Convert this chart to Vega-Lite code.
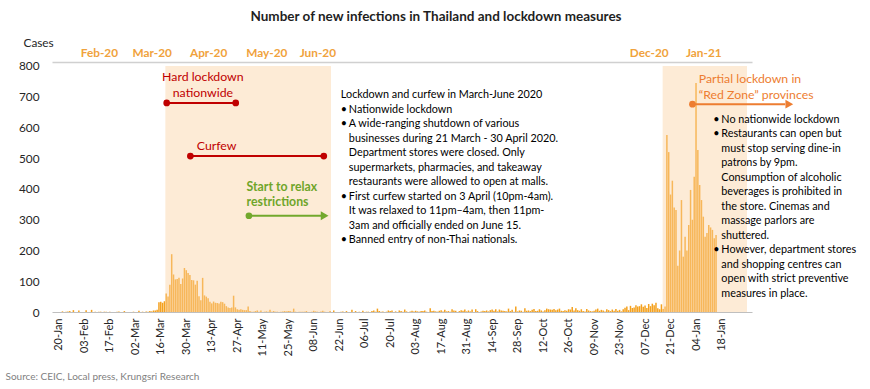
{
  "$schema": "https://vega.github.io/schema/vega-lite/v6.json",
  "width": 700,
  "height": 250,
  "autosize": {"type": "none"},
  "padding": {"left": 52, "top": 62, "right": 118, "bottom": 77},
  "background": "white",
  "title": {"text": "Number of new infections in Thailand and lockdown measures", "fontSize": 13.5, "fontWeight": "bold", "color": "#1F1F1F", "anchor": "middle", "dx": 34, "offset": 14},
  "config": {
    "font": "Lato",
    "view": {"stroke": null},
    "axis": {"grid": false},
    "axisY": {"labelOverlap": false, "labelFlush": false, "labelSeparation": 0}
  },
  "datasets": {
    "cases": [
      {"date": "2020-01-22", "cases": 2}, {"date": "2020-01-24", "cases": 1}, {"date": "2020-01-25", "cases": 2}, {"date": "2020-01-26", "cases": 3}, {"date": "2020-01-28", "cases": 6}, {"date": "2020-01-31", "cases": 5},
      {"date": "2020-02-04", "cases": 6}, {"date": "2020-02-07", "cases": 7}, {"date": "2020-02-09", "cases": 1}, {"date": "2020-02-11", "cases": 1}, {"date": "2020-02-12", "cases": 1}, {"date": "2020-02-14", "cases": 1}, {"date": "2020-02-15", "cases": 1}, {"date": "2020-02-17", "cases": 1}, {"date": "2020-02-21", "cases": 1}, {"date": "2020-02-22", "cases": 2}, {"date": "2020-02-25", "cases": 3},
      {"date": "2020-03-01", "cases": 1}, {"date": "2020-03-04", "cases": 4}, {"date": "2020-03-06", "cases": 1}, {"date": "2020-03-08", "cases": 2}, {"date": "2020-03-09", "cases": 1}, {"date": "2020-03-10", "cases": 3}, {"date": "2020-03-11", "cases": 2}, {"date": "2020-03-12", "cases": 5}, {"date": "2020-03-13", "cases": 5}, {"date": "2020-03-14", "cases": 7}, {"date": "2020-03-15", "cases": 32}, {"date": "2020-03-16", "cases": 33}, {"date": "2020-03-17", "cases": 30}, {"date": "2020-03-18", "cases": 35}, {"date": "2020-03-19", "cases": 60}, {"date": "2020-03-20", "cases": 50}, {"date": "2020-03-21", "cases": 89}, {"date": "2020-03-22", "cases": 188}, {"date": "2020-03-23", "cases": 122}, {"date": "2020-03-24", "cases": 106}, {"date": "2020-03-25", "cases": 107}, {"date": "2020-03-26", "cases": 111}, {"date": "2020-03-27", "cases": 91}, {"date": "2020-03-28", "cases": 109}, {"date": "2020-03-29", "cases": 143}, {"date": "2020-03-30", "cases": 136}, {"date": "2020-03-31", "cases": 127},
      {"date": "2020-04-01", "cases": 120}, {"date": "2020-04-02", "cases": 104}, {"date": "2020-04-03", "cases": 103}, {"date": "2020-04-04", "cases": 89}, {"date": "2020-04-05", "cases": 102}, {"date": "2020-04-06", "cases": 51}, {"date": "2020-04-07", "cases": 38}, {"date": "2020-04-08", "cases": 111}, {"date": "2020-04-09", "cases": 54}, {"date": "2020-04-10", "cases": 50}, {"date": "2020-04-11", "cases": 45}, {"date": "2020-04-12", "cases": 33}, {"date": "2020-04-13", "cases": 28}, {"date": "2020-04-14", "cases": 34}, {"date": "2020-04-15", "cases": 30}, {"date": "2020-04-16", "cases": 29}, {"date": "2020-04-17", "cases": 28}, {"date": "2020-04-18", "cases": 33}, {"date": "2020-04-19", "cases": 32}, {"date": "2020-04-20", "cases": 27}, {"date": "2020-04-21", "cases": 19}, {"date": "2020-04-22", "cases": 15}, {"date": "2020-04-23", "cases": 13}, {"date": "2020-04-24", "cases": 15}, {"date": "2020-04-25", "cases": 53}, {"date": "2020-04-26", "cases": 15}, {"date": "2020-04-27", "cases": 9}, {"date": "2020-04-28", "cases": 7}, {"date": "2020-04-29", "cases": 9}, {"date": "2020-04-30", "cases": 7},
      {"date": "2020-05-01", "cases": 6}, {"date": "2020-05-02", "cases": 6}, {"date": "2020-05-03", "cases": 18}, {"date": "2020-05-04", "cases": 3}, {"date": "2020-05-05", "cases": 1}, {"date": "2020-05-06", "cases": 1}, {"date": "2020-05-07", "cases": 3}, {"date": "2020-05-08", "cases": 5}, {"date": "2020-05-09", "cases": 1}, {"date": "2020-05-10", "cases": 5}, {"date": "2020-05-12", "cases": 1}, {"date": "2020-05-13", "cases": 2}, {"date": "2020-05-14", "cases": 1}, {"date": "2020-05-15", "cases": 7}, {"date": "2020-05-16", "cases": 1}, {"date": "2020-05-17", "cases": 3}, {"date": "2020-05-18", "cases": 1}, {"date": "2020-05-19", "cases": 1}, {"date": "2020-05-21", "cases": 1}, {"date": "2020-05-22", "cases": 2}, {"date": "2020-05-23", "cases": 3}, {"date": "2020-05-24", "cases": 2}, {"date": "2020-05-25", "cases": 3}, {"date": "2020-05-26", "cases": 3}, {"date": "2020-05-27", "cases": 1}, {"date": "2020-05-28", "cases": 11}, {"date": "2020-05-29", "cases": 1}, {"date": "2020-05-31", "cases": 1},
      {"date": "2020-06-01", "cases": 1}, {"date": "2020-06-02", "cases": 1}, {"date": "2020-06-03", "cases": 1}, {"date": "2020-06-04", "cases": 3}, {"date": "2020-06-07", "cases": 1}, {"date": "2020-06-08", "cases": 4}, {"date": "2020-06-09", "cases": 2}, {"date": "2020-06-10", "cases": 1}, {"date": "2020-06-12", "cases": 2}, {"date": "2020-06-13", "cases": 4}, {"date": "2020-06-14", "cases": 1}, {"date": "2020-06-17", "cases": 3}, {"date": "2020-06-19", "cases": 5}, {"date": "2020-06-23", "cases": 1}, {"date": "2020-06-24", "cases": 2}, {"date": "2020-06-26", "cases": 3}, {"date": "2020-06-29", "cases": 7},
      {"date": "2020-07-01", "cases": 3}, {"date": "2020-07-03", "cases": 1}, {"date": "2020-07-05", "cases": 4}, {"date": "2020-07-07", "cases": 1}, {"date": "2020-07-08", "cases": 1}, {"date": "2020-07-10", "cases": 3}, {"date": "2020-07-11", "cases": 5}, {"date": "2020-07-12", "cases": 1}, {"date": "2020-07-13", "cases": 11}, {"date": "2020-07-14", "cases": 3}, {"date": "2020-07-15", "cases": 1}, {"date": "2020-07-16", "cases": 2}, {"date": "2020-07-18", "cases": 1}, {"date": "2020-07-19", "cases": 5}, {"date": "2020-07-20", "cases": 3}, {"date": "2020-07-21", "cases": 5}, {"date": "2020-07-23", "cases": 2}, {"date": "2020-07-25", "cases": 5}, {"date": "2020-07-26", "cases": 3}, {"date": "2020-07-27", "cases": 1}, {"date": "2020-07-28", "cases": 8}, {"date": "2020-07-29", "cases": 2}, {"date": "2020-07-31", "cases": 2},
      {"date": "2020-08-01", "cases": 4}, {"date": "2020-08-02", "cases": 2}, {"date": "2020-08-03", "cases": 4}, {"date": "2020-08-04", "cases": 2}, {"date": "2020-08-05", "cases": 1}, {"date": "2020-08-06", "cases": 3}, {"date": "2020-08-07", "cases": 3}, {"date": "2020-08-08", "cases": 5}, {"date": "2020-08-09", "cases": 1}, {"date": "2020-08-11", "cases": 12}, {"date": "2020-08-12", "cases": 3}, {"date": "2020-08-13", "cases": 4}, {"date": "2020-08-14", "cases": 2}, {"date": "2020-08-15", "cases": 1}, {"date": "2020-08-16", "cases": 4}, {"date": "2020-08-17", "cases": 6}, {"date": "2020-08-18", "cases": 2}, {"date": "2020-08-19", "cases": 7}, {"date": "2020-08-20", "cases": 2}, {"date": "2020-08-21", "cases": 3}, {"date": "2020-08-22", "cases": 1}, {"date": "2020-08-23", "cases": 9}, {"date": "2020-08-24", "cases": 5}, {"date": "2020-08-25", "cases": 4}, {"date": "2020-08-27", "cases": 3}, {"date": "2020-08-28", "cases": 6}, {"date": "2020-08-29", "cases": 4}, {"date": "2020-08-30", "cases": 8}, {"date": "2020-08-31", "cases": 2},
      {"date": "2020-09-01", "cases": 5}, {"date": "2020-09-02", "cases": 2}, {"date": "2020-09-03", "cases": 8}, {"date": "2020-09-05", "cases": 9}, {"date": "2020-09-06", "cases": 3}, {"date": "2020-09-08", "cases": 2}, {"date": "2020-09-09", "cases": 4}, {"date": "2020-09-10", "cases": 3}, {"date": "2020-09-11", "cases": 5}, {"date": "2020-09-12", "cases": 2}, {"date": "2020-09-13", "cases": 6}, {"date": "2020-09-14", "cases": 8}, {"date": "2020-09-15", "cases": 4}, {"date": "2020-09-16", "cases": 9}, {"date": "2020-09-17", "cases": 2}, {"date": "2020-09-18", "cases": 8}, {"date": "2020-09-19", "cases": 5}, {"date": "2020-09-20", "cases": 4}, {"date": "2020-09-21", "cases": 3}, {"date": "2020-09-22", "cases": 2}, {"date": "2020-09-23", "cases": 11}, {"date": "2020-09-24", "cases": 3}, {"date": "2020-09-25", "cases": 7}, {"date": "2020-09-26", "cases": 1}, {"date": "2020-09-27", "cases": 18}, {"date": "2020-09-28", "cases": 2}, {"date": "2020-09-29", "cases": 5}, {"date": "2020-09-30", "cases": 4},
      {"date": "2020-10-01", "cases": 1}, {"date": "2020-10-02", "cases": 12}, {"date": "2020-10-03", "cases": 4}, {"date": "2020-10-04", "cases": 5}, {"date": "2020-10-05", "cases": 3}, {"date": "2020-10-06", "cases": 7}, {"date": "2020-10-07", "cases": 10}, {"date": "2020-10-08", "cases": 3}, {"date": "2020-10-09", "cases": 4}, {"date": "2020-10-10", "cases": 9}, {"date": "2020-10-11", "cases": 5}, {"date": "2020-10-12", "cases": 2}, {"date": "2020-10-13", "cases": 6}, {"date": "2020-10-14", "cases": 11}, {"date": "2020-10-15", "cases": 9}, {"date": "2020-10-16", "cases": 8}, {"date": "2020-10-17", "cases": 7}, {"date": "2020-10-18", "cases": 10}, {"date": "2020-10-19", "cases": 6}, {"date": "2020-10-20", "cases": 8}, {"date": "2020-10-21", "cases": 11}, {"date": "2020-10-22", "cases": 4}, {"date": "2020-10-23", "cases": 3}, {"date": "2020-10-24", "cases": 6}, {"date": "2020-10-25", "cases": 4}, {"date": "2020-10-26", "cases": 9}, {"date": "2020-10-27", "cases": 8}, {"date": "2020-10-28", "cases": 16}, {"date": "2020-10-29", "cases": 5}, {"date": "2020-10-30", "cases": 12}, {"date": "2020-10-31", "cases": 6},
      {"date": "2020-11-01", "cases": 4}, {"date": "2020-11-02", "cases": 9}, {"date": "2020-11-03", "cases": 3}, {"date": "2020-11-04", "cases": 2}, {"date": "2020-11-05", "cases": 10}, {"date": "2020-11-06", "cases": 5}, {"date": "2020-11-07", "cases": 3}, {"date": "2020-11-08", "cases": 2}, {"date": "2020-11-09", "cases": 4}, {"date": "2020-11-10", "cases": 8}, {"date": "2020-11-11", "cases": 11}, {"date": "2020-11-12", "cases": 4}, {"date": "2020-11-13", "cases": 7}, {"date": "2020-11-14", "cases": 5}, {"date": "2020-11-15", "cases": 2}, {"date": "2020-11-16", "cases": 9}, {"date": "2020-11-17", "cases": 6}, {"date": "2020-11-18", "cases": 3}, {"date": "2020-11-19", "cases": 8}, {"date": "2020-11-20", "cases": 4}, {"date": "2020-11-21", "cases": 10}, {"date": "2020-11-22", "cases": 4}, {"date": "2020-11-23", "cases": 7}, {"date": "2020-11-24", "cases": 2}, {"date": "2020-11-25", "cases": 9}, {"date": "2020-11-26", "cases": 14}, {"date": "2020-11-27", "cases": 18}, {"date": "2020-11-28", "cases": 6}, {"date": "2020-11-29", "cases": 20}, {"date": "2020-11-30", "cases": 13},
      {"date": "2020-12-01", "cases": 15}, {"date": "2020-12-02", "cases": 22}, {"date": "2020-12-03", "cases": 18}, {"date": "2020-12-04", "cases": 19}, {"date": "2020-12-05", "cases": 25}, {"date": "2020-12-06", "cases": 17}, {"date": "2020-12-07", "cases": 21}, {"date": "2020-12-08", "cases": 13}, {"date": "2020-12-09", "cases": 26}, {"date": "2020-12-10", "cases": 19}, {"date": "2020-12-11", "cases": 27}, {"date": "2020-12-12", "cases": 22}, {"date": "2020-12-13", "cases": 30}, {"date": "2020-12-14", "cases": 12}, {"date": "2020-12-15", "cases": 9}, {"date": "2020-12-16", "cases": 25}, {"date": "2020-12-17", "cases": 10}, {"date": "2020-12-18", "cases": 18},
      {"date": "2020-12-19", "cases": 576}, {"date": "2020-12-20", "cases": 520}, {"date": "2020-12-21", "cases": 382}, {"date": "2020-12-22", "cases": 427}, {"date": "2020-12-23", "cases": 340}, {"date": "2020-12-24", "cases": 332}, {"date": "2020-12-25", "cases": 150}, {"date": "2020-12-26", "cases": 200}, {"date": "2020-12-27", "cases": 364}, {"date": "2020-12-28", "cases": 180}, {"date": "2020-12-29", "cases": 245}, {"date": "2020-12-30", "cases": 200}, {"date": "2020-12-31", "cases": 283},
      {"date": "2021-01-01", "cases": 397}, {"date": "2021-01-02", "cases": 300}, {"date": "2021-01-03", "cases": 440}, {"date": "2021-01-04", "cases": 745}, {"date": "2021-01-05", "cases": 527}, {"date": "2021-01-06", "cases": 413}, {"date": "2021-01-07", "cases": 364}, {"date": "2021-01-08", "cases": 310}, {"date": "2021-01-09", "cases": 245}, {"date": "2021-01-10", "cases": 257}, {"date": "2021-01-11", "cases": 283}, {"date": "2021-01-12", "cases": 275}, {"date": "2021-01-13", "cases": 267}, {"date": "2021-01-14", "cases": 240}, {"date": "2021-01-15", "cases": 250}
    ],
    "shades": [
      {"start": "2020-03-18T12:00:00Z", "end": "2020-06-17T12:00:00Z"},
      {"start": "2020-12-16T16:00:00Z", "end": "2021-02-01T00:00:00Z"}
    ],
    "segments": [
      {"start": "2020-03-19T06:00:00Z", "end": "2020-04-26T04:00:00Z", "value": 680, "group": "lockdown"},
      {"start": "2020-04-01T06:00:00Z", "end": "2020-06-13T13:00:00Z", "value": 507, "group": "lockdown"},
      {"start": "2020-05-03T10:00:00Z", "end": "2020-06-13T00:00:00Z", "value": 313, "group": "relax"},
      {"start": "2021-01-02T01:00:00Z", "end": "2021-02-22T00:00:00Z", "value": 676, "group": "partial"}
    ],
    "dots": [
      {"date": "2020-03-19T06:00:00Z", "value": 680, "group": "lockdown"},
      {"date": "2020-04-26T04:00:00Z", "value": 680, "group": "lockdown"},
      {"date": "2020-04-01T06:00:00Z", "value": 507, "group": "lockdown"},
      {"date": "2020-06-13T13:00:00Z", "value": 507, "group": "lockdown"},
      {"date": "2020-05-03T10:00:00Z", "value": 313, "group": "relax"},
      {"date": "2021-01-02T01:00:00Z", "value": 676, "group": "partial"}
    ],
    "heads": [
      {"date": "2020-06-14T00:00:00Z", "value": 313, "group": "relax"},
      {"date": "2021-02-24T06:00:00Z", "value": 676, "group": "partial"}
    ],
    "redLabels": [
      {"date": "2020-04-08T03:00:00Z", "value": 783, "label": "Hard lockdown\nnationwide"},
      {"date": "2020-04-15T16:00:00Z", "value": 560, "label": "Curfew"}
    ],
    "greenLabels": [
      {"date": "2020-05-02T03:00:00Z", "value": 427, "label": "Start to relax\nrestrictions"}
    ],
    "orangeLabels": [
      {"date": "2021-01-05T12:00:00Z", "value": 777, "label": "Partial lockdown in\n“Red Zone” provinces"}
    ],
    "headers": [
      {"date": "2020-06-22T22:00:00Z", "value": 725, "label": "Lockdown and curfew in March-June 2020"}
    ],
    "bullets": [
      {"date": "2020-06-22T22:00:00Z", "value": 677},
      {"date": "2020-06-22T22:00:00Z", "value": 629.8},
      {"date": "2020-06-22T22:00:00Z", "value": 394.1},
      {"date": "2020-06-22T22:00:00Z", "value": 252.6},
      {"date": "2021-01-13T12:00:00Z", "value": 645},
      {"date": "2021-01-13T12:00:00Z", "value": 597.8},
      {"date": "2021-01-13T12:00:00Z", "value": 220.6}
    ],
    "bodies": [
      {"date": "2020-06-22T22:00:00Z", "value": 677, "label": "Nationwide lockdown\nA wide-ranging shutdown of various\nbusinesses during 21 March - 30 April 2020.\nDepartment stores were closed. Only\nsupermarkets, pharmacies, and takeaway\nrestaurants were allowed to open at malls.\nFirst curfew started on 3 April (10pm-4am).\nIt was relaxed to 11pm–4am, then 11pm-\n3am and officially ended on June 15.\nBanned entry of non-Thai nationals."},
      {"date": "2021-01-13T12:00:00Z", "value": 645, "label": "No nationwide lockdown\nRestaurants can open but\nmust stop serving dine-in\npatrons by 9pm.\nConsumption of alcoholic\nbeverages is prohibited in\nthe store. Cinemas and\nmassage parlors are\nshuttered.\nHowever, department stores\nand  shopping centres can\nopen with strict preventive\nmeasures in place."}
    ]
  },
  "layer": [
    {
      "data": {"name": "cases"},
      "mark": {"type": "bar", "width": 1.5, "color": "#F4A11E"},
      "encoding": {
        "x": {
          "field": "date", "type": "temporal",
          "scale": {"type": "utc", "domain": [{"year": 2020, "month": 1, "date": 19, "utc": true}, {"year": 2021, "month": 2, "date": 1, "utc": true}]},
          "axis": {
            "orient": "bottom",
            "title": "Source: CEIC, Local press, Krungsri Research",
            "titleFontSize": 10,
            "titleFontWeight": "normal",
            "titleColor": "#7F7F7F",
            "titleAlign": "left",
            "titleBaseline": "middle",
            "titleX": -47,
            "titleY": 64,
            "values": [
              {"year": 2020, "month": 1, "date": 20, "utc": true}, {"year": 2020, "month": 2, "date": 3, "utc": true}, {"year": 2020, "month": 2, "date": 17, "utc": true}, {"year": 2020, "month": 3, "date": 2, "utc": true}, {"year": 2020, "month": 3, "date": 16, "utc": true}, {"year": 2020, "month": 3, "date": 30, "utc": true}, {"year": 2020, "month": 4, "date": 13, "utc": true}, {"year": 2020, "month": 4, "date": 27, "utc": true}, {"year": 2020, "month": 5, "date": 11, "utc": true}, {"year": 2020, "month": 5, "date": 25, "utc": true}, {"year": 2020, "month": 6, "date": 8, "utc": true}, {"year": 2020, "month": 6, "date": 22, "utc": true}, {"year": 2020, "month": 7, "date": 6, "utc": true}, {"year": 2020, "month": 7, "date": 20, "utc": true}, {"year": 2020, "month": 8, "date": 3, "utc": true}, {"year": 2020, "month": 8, "date": 17, "utc": true}, {"year": 2020, "month": 8, "date": 31, "utc": true}, {"year": 2020, "month": 9, "date": 14, "utc": true}, {"year": 2020, "month": 9, "date": 28, "utc": true}, {"year": 2020, "month": 10, "date": 12, "utc": true}, {"year": 2020, "month": 10, "date": 26, "utc": true}, {"year": 2020, "month": 11, "date": 9, "utc": true}, {"year": 2020, "month": 11, "date": 23, "utc": true}, {"year": 2020, "month": 12, "date": 7, "utc": true}, {"year": 2020, "month": 12, "date": 21, "utc": true}, {"year": 2021, "month": 1, "date": 4, "utc": true}, {"year": 2021, "month": 1, "date": 18, "utc": true}
            ],
            "format": "%d-%b",
            "labelAngle": -90,
            "labelAlign": "right",
            "labelBaseline": "middle",
            "labelFontSize": 11,
            "labelColor": "#262626",
            "labelPadding": 6,
            "labelOverlap": false,
            "labelFlush": false,
            "ticks": false,
            "domainColor": "#BFBFBF",
            "domainWidth": 1
          }
        },
        "y": {
          "field": "cases", "type": "quantitative", "title": "Cases",
          "scale": {"domain": [0, 813], "nice": false, "zero": true},
          "axis": {
            "values": [0, 100, 200, 300, 400, 500, 600, 700, 800],
            "tickCount": 9,
            "labelOverlap": false,
            "labelFlush": false,
            "domain": false,
            "ticks": false,
            "labelFontSize": 11.8,
            "labelColor": "#262626",
            "labelPadding": 13,
            "titleAngle": 0,
            "titleAlign": "left",
            "titleBaseline": "middle",
            "titleX": -29,
            "titleY": -20,
            "titleFontSize": 11.8,
            "titleFontWeight": "normal",
            "titleColor": "#262626"
          }
        }
      }
    },
    {
      "data": {"name": "shades"},
      "mark": {"type": "rect", "color": "#FAD3A3", "opacity": 0.45},
      "encoding": {
        "x": {
          "field": "start", "type": "temporal",
          "axis": {
            "orient": "top",
            "title": null,
            "values": [
              {"year": 2020, "month": 2, "date": 11, "utc": true}, {"year": 2020, "month": 3, "date": 11, "utc": true}, {"year": 2020, "month": 4, "date": 11, "utc": true}, {"year": 2020, "month": 5, "date": 13, "utc": true}, {"year": 2020, "month": 6, "date": 10, "utc": true}, {"year": 2020, "month": 12, "date": 9, "utc": true}, {"year": 2021, "month": 1, "date": 8, "utc": true}
            ],
            "format": "%b-%y",
            "labelFontSize": 11.8,
            "labelFontWeight": "bold",
            "labelColor": "#F0A23C",
            "labelPadding": 4,
            "labelOverlap": false,
            "labelFlush": false,
            "ticks": false,
            "domainColor": "#D0D0D0",
            "domainWidth": 1.5
          }
        },
        "x2": {"field": "end"},
        "y": {"datum": 800, "type": "quantitative"},
        "y2": {"datum": 0}
      }
    },
    {
      "data": {"name": "segments"},
      "mark": {"type": "rule", "strokeWidth": 2},
      "encoding": {
        "x": {"field": "start", "type": "temporal", "axis": null},
        "x2": {"field": "end"},
        "y": {"field": "value", "type": "quantitative"},
        "color": {"field": "group", "type": "nominal", "scale": {"domain": ["lockdown", "relax", "partial"], "range": ["#C00000", "#72A82D", "#ED7D31"]}, "legend": null}
      }
    },
    {
      "data": {"name": "dots"},
      "mark": {"type": "point", "filled": true, "shape": "circle", "size": 45, "opacity": 1},
      "encoding": {
        "x": {"field": "date", "type": "temporal", "axis": null},
        "y": {"field": "value", "type": "quantitative"},
        "color": {"field": "group", "type": "nominal", "legend": null}
      }
    },
    {
      "data": {"name": "heads"},
      "mark": {"type": "point", "filled": true, "shape": "triangle-right", "size": 80, "opacity": 1},
      "encoding": {
        "x": {"field": "date", "type": "temporal", "axis": null},
        "y": {"field": "value", "type": "quantitative"},
        "color": {"field": "group", "type": "nominal", "legend": null}
      }
    },
    {
      "data": {"name": "redLabels"},
      "mark": {"type": "text", "align": "center", "baseline": "top", "lineBreak": "\n", "lineHeight": 16, "fontSize": 12.3, "color": "#C00000"},
      "encoding": {
        "x": {"field": "date", "type": "temporal", "axis": null},
        "y": {"field": "value", "type": "quantitative"},
        "text": {"field": "label"}
      }
    },
    {
      "data": {"name": "greenLabels"},
      "mark": {"type": "text", "align": "left", "baseline": "top", "lineBreak": "\n", "lineHeight": 15, "fontSize": 12.3, "fontWeight": "bold", "color": "#6FA52A"},
      "encoding": {
        "x": {"field": "date", "type": "temporal", "axis": null},
        "y": {"field": "value", "type": "quantitative"},
        "text": {"field": "label"}
      }
    },
    {
      "data": {"name": "orangeLabels"},
      "mark": {"type": "text", "align": "left", "baseline": "top", "lineBreak": "\n", "lineHeight": 16, "fontSize": 12.3, "color": "#ED7D31"},
      "encoding": {
        "x": {"field": "date", "type": "temporal", "axis": null},
        "y": {"field": "value", "type": "quantitative"},
        "text": {"field": "label"}
      }
    },
    {
      "data": {"name": "headers"},
      "mark": {"type": "text", "align": "left", "baseline": "top", "fontSize": 10.8, "color": "#000000"},
      "encoding": {
        "x": {"field": "date", "type": "temporal", "axis": null},
        "y": {"field": "value", "type": "quantitative"},
        "text": {"field": "label"}
      }
    },
    {
      "data": {"name": "bullets"},
      "mark": {"type": "text", "align": "left", "baseline": "top", "fontSize": 10.8, "color": "#000000", "text": "•"},
      "encoding": {
        "x": {"field": "date", "type": "temporal", "axis": null},
        "y": {"field": "value", "type": "quantitative"}
      }
    },
    {
      "data": {"name": "bodies"},
      "mark": {"type": "text", "align": "left", "baseline": "top", "lineBreak": "\n", "lineHeight": 14.5, "fontSize": 10.8, "dx": 8, "color": "#000000"},
      "encoding": {
        "x": {"field": "date", "type": "temporal", "axis": null},
        "y": {"field": "value", "type": "quantitative"},
        "text": {"field": "label"}
      }
    }
  ],
  "resolve": {"axis": {"x": "independent"}}
}
